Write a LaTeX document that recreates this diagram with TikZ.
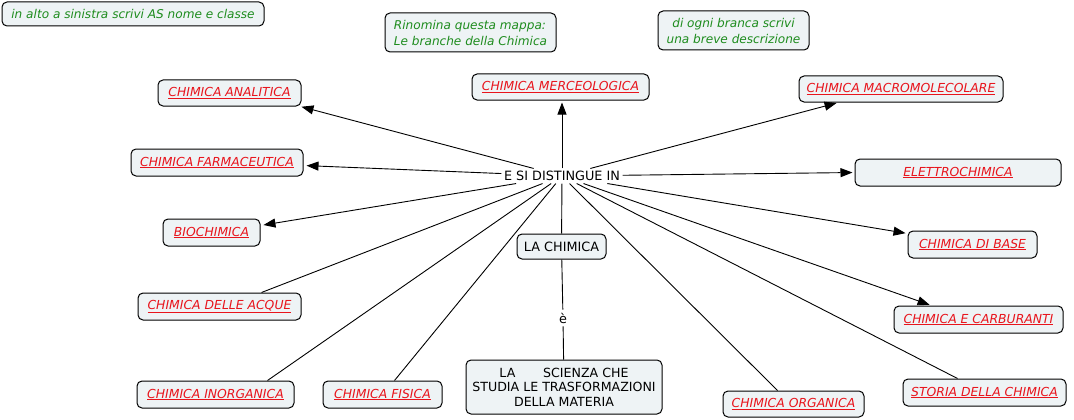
\documentclass[tikz,border=0pt]{standalone}
\usepackage{fontspec}
\setmainfont{DejaVu Sans}
\usetikzlibrary{arrows.meta}
\definecolor{boxfill}{HTML}{EEF3F5}
\definecolor{redtxt}{HTML}{E8141C}
\definecolor{greentxt}{HTML}{1E8C1E}
\tikzset{
  basefont/.style={font=\fontsize{12.8}{15}\selectfont},
  cbox/.style={draw, line width=1pt, rounded corners=5pt, fill=boxfill, inner sep=0pt, align=center, basefont},
  branch/.style={cbox, text=redtxt, font=\fontsize{12.4}{15}\selectfont\itshape, minimum height=27pt},
  note/.style={cbox, text=greentxt, font=\fontsize{12.1}{16}\selectfont\itshape},
  conn/.style={line width=0.9pt},
  arr/.style={conn, -{Triangle[length=12pt,width=9pt]}},
}
\begin{document}
\begin{tikzpicture}[x=1pt,y=-1pt]
\useasboundingbox (0,0) rectangle (1074,420);

% notes
\node[note, minimum width=262pt, minimum height=24pt] (n1) at (133,14) {in alto a sinistra scrivi AS nome e classe};
\node[note, align=left, minimum width=171pt, minimum height=39pt] (n2) at (470.5,32.5) {Rinomina questa mappa:\\Le branche della Chimica};
\node[note, minimum width=151pt, minimum height=39pt] (n3) at (733.5,30.5) {di ogni branca scrivi\\una breve descrizione};

% central
\node[basefont, inner sep=2.5pt, fill=white] (dist) at (562,176) {E SI DISTINGUE IN};
\node[cbox, minimum width=89pt, minimum height=25pt] (lac) at (561.5,246.5) {LA CHIMICA};
\node[basefont, inner sep=3pt, fill=white] (e) at (563,318) {è};
\node[cbox, minimum width=196pt, minimum height=54pt, font=\fontsize{12.6}{14.5}\selectfont] (sci) at (564,387) {LA\hspace{2.2em}SCIENZA CHE\\STUDIA LE TRASFORMAZIONI\\DELLA MATERIA};

% branches
\node[branch, minimum width=143pt, minimum height=26pt] (ana) at (229.5,93) {\underline{CHIMICA ANALITICA}};
\node[branch, minimum width=177pt, minimum height=26pt] (merc) at (560.5,87) {\underline{CHIMICA MERCEOLOGICA}};
\node[branch, minimum width=204pt, minimum height=26pt] (macro) at (901,89) {\underline{CHIMICA MACROMOLECOLARE}};
\node[branch, minimum width=172pt] (farm) at (217,162.5) {\underline{CHIMICA FARMACEUTICA}};
\node[branch, minimum width=206pt] (elet) at (958,172.5) {\underline{ELETTROCHIMICA}};
\node[branch, minimum width=97pt] (bio) at (211.5,232.5) {\underline{BIOCHIMICA}};
\node[branch, minimum width=129pt] (base) at (972.5,244.5) {\underline{CHIMICA DI BASE}};
\node[branch, minimum width=163pt] (acque) at (219.5,306.5) {\underline{CHIMICA DELLE ACQUE}};
\node[branch, minimum width=169pt] (carb) at (978.5,319.5) {\underline{CHIMICA E CARBURANTI}};
\node[branch, minimum width=157pt] (inorg) at (215.5,394.5) {\underline{CHIMICA INORGANICA}};
\node[branch, minimum width=119pt] (fis) at (382.5,394.5) {\underline{CHIMICA FISICA}};
\node[branch, minimum width=141pt, minimum height=26pt] (org) at (793.5,404) {\underline{CHIMICA ORGANICA}};
\node[branch, minimum width=163pt] (stor) at (984.5,392.5) {\underline{STORIA DELLA CHIMICA}};

% connectors
\draw[conn] (lac) -- (dist);
\draw[conn] (lac) -- (e);
\draw[conn] (e) -- (sci);

\draw[arr, shorten >=1pt] (dist) -- ([xshift=-1pt]ana.south east);
\draw[arr, shorten >=2pt] (dist) -- ([xshift=1.5pt]merc.south);
\draw[arr, shorten >=2pt] (dist) -- ([xshift=40pt]macro.south west);
\draw[arr, shorten >=3pt] (dist) -- ([yshift=-3pt]farm.east);
\draw[arr, shorten >=2pt] (dist) -- (elet.west);
\draw[arr, shorten >=3pt] (dist) -- ([yshift=7pt]bio.east);
\draw[arr, shorten >=2pt] (dist) -- ([yshift=-3pt]base.north west);
\draw[arr, shorten >=2pt] (dist) -- ([xshift=38pt]carb.north west);

\draw[conn] (dist) -- ([xshift=124pt]acque.north west);
\draw[conn] (dist) -- ([xshift=131pt]inorg.north west);
\draw[conn] (dist) -- ([xshift=72pt]fis.north west);
\draw[conn] (dist) -- ([xshift=55pt]org.north west);
\draw[conn] (dist) -- ([xshift=55pt]stor.north west);
\end{tikzpicture}
\end{document}
